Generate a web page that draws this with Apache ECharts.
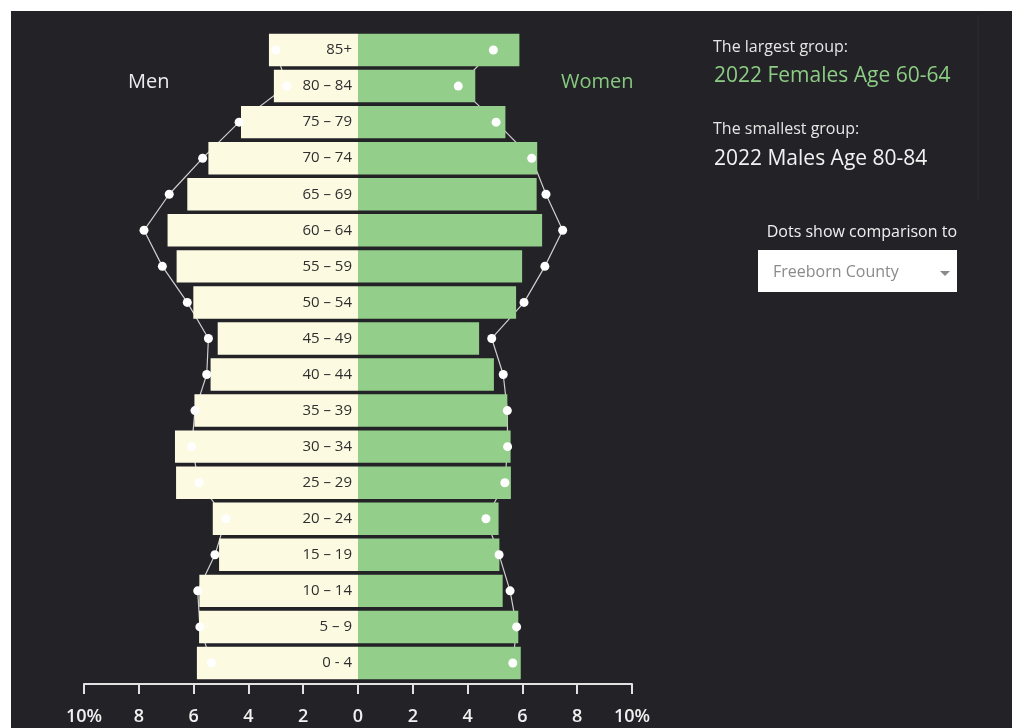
<!DOCTYPE html>
<html>
<head>
<meta charset="utf-8">
<script src="https://cdn.jsdelivr.net/npm/echarts@6/dist/echarts.min.js"></script>
<style>
html,body{margin:0;padding:0;background:#ffffff;width:1015px;height:728px;overflow:hidden;}
#chart{position:absolute;left:11px;top:11px;width:1001px;height:717px;}
</style>
</head>
<body>
<div id="chart"></div>
<script>
// Age groups, bottom to top
var categories = ['0 - 4','5 – 9','10 – 14','15 – 19','20 – 24','25 – 29','30 – 34','35 – 39','40 – 44','45 – 49','50 – 54','55 – 59','60 – 64','65 – 69','70 – 74','75 – 79','80 – 84','85+'];
// Percent of population (2022)
var menValues   = [5.88,5.80,5.79,5.07,5.30,6.64,6.68,5.97,5.38,5.12,6.01,6.62,6.95,6.23,5.46,4.27,3.07,3.25];
var womenValues = [5.94,5.85,5.28,5.16,5.13,5.58,5.57,5.45,4.96,4.42,5.77,5.99,6.72,6.52,6.54,5.38,4.28,5.89];
// Comparison dots (Freeborn County)
var menCompare   = [5.35,5.77,5.85,5.22,4.82,5.80,6.07,5.95,5.52,5.46,6.23,7.14,7.81,6.89,5.67,4.34,2.60,3.00];
var womenCompare = [5.65,5.79,5.55,5.15,4.67,5.36,5.46,5.45,5.30,4.88,6.06,6.82,7.47,6.86,6.34,5.04,3.66,4.94];

var FONT = 'Open Sans';
var chart = echarts.init(document.getElementById('chart'), null, {renderer:'canvas'});

function pairs(arr, sign){ return arr.map(function(v,i){ return [sign*v, categories[i]]; }); }

var option = {
  backgroundColor: '#232227',
  animation: false,
  grid: {left: 73, top: 21, width: 548, height: 649, containLabel: false},
  xAxis: {
    type: 'value', min: -10, max: 10, interval: 2,
    offset: 3,
    axisLine: {show: true, onZero: false, lineStyle: {color: '#e2e2e2', width: 2}},
    axisTick: {show: true, length: 10, lineStyle: {color: '#e2e2e2', width: 2}},
    splitLine: {show: false},
    axisLabel: {
      margin: 24, color: '#f0f0f0', fontSize: 18, fontWeight: 600, fontFamily: FONT,
      formatter: function(v){ var a = Math.abs(v); return a === 10 ? a + '%' : String(a); }
    }
  },
  yAxis: {
    type: 'category', data: categories, z: 10,
    position: 'left', offset: -274,
    axisLine: {show: false, onZero: false},
    axisTick: {show: false},
    splitLine: {show: false},
    axisLabel: {margin: 6, color: '#2f2f2f', fontSize: 15, fontFamily: FONT}
  },
  series: [
    {
      name: 'Men', type: 'bar', barGap: '-100%', barCategoryGap: '10%', z: 2,
      data: menValues.map(function(v){ return -v; }),
      itemStyle: {color: '#fdfae2'}
    },
    {
      name: 'Women', type: 'bar', barGap: '-100%', barCategoryGap: '10%', z: 2,
      data: womenValues,
      itemStyle: {color: '#93cf8a'}
    },
    {
      type: 'line', z: 1, symbol: 'none', data: pairs(menCompare, -1),
      lineStyle: {color: '#cfcfcf', width: 1.2}
    },
    {
      type: 'line', z: 1, symbol: 'none', data: pairs(womenCompare, 1),
      lineStyle: {color: '#cfcfcf', width: 1.2}
    },
    {
      type: 'scatter', z: 5, symbolSize: 9, data: pairs(menCompare, -1),
      itemStyle: {color: '#ffffff', opacity: 1}
    },
    {
      type: 'scatter', z: 5, symbolSize: 9, data: pairs(womenCompare, 1),
      itemStyle: {color: '#ffffff', opacity: 1}
    }
  ],
  graphic: [
    {type:'line', shape:{x1:967, y1:4, x2:967, y2:190}, style:{stroke:'#2d2c32', lineWidth:1}, silent:true},
    {type:'text', left: 117, top: 61, style:{text:'Men', fill:'#ececec', font: '20px "Open Sans"'}},
    {type:'text', left: 550, top: 61, style:{text:'Women', fill:'#86c97f', font: '20px "Open Sans"'}},
    {type:'text', left: 702, top: 28, style:{text:'The largest group:', fill:'#e6e6e6', font: '16px "Open Sans"'}},
    {type:'text', left: 703, top: 55, style:{text:'2022 Females Age 60-64', fill:'#8ccc84', font: '21px "Open Sans"'}},
    {type:'text', left: 702, top: 110, style:{text:'The smallest group:', fill:'#e6e6e6', font: '16px "Open Sans"'}},
    {type:'text', left: 703, top: 138, style:{text:'2022 Males Age 80-84', fill:'#f2f2f2', font: '21px "Open Sans"'}},
    {type:'text', right: 55, top: 213, style:{text:'Dots show comparison to', fill:'#f0f0f0', font: '16px "Open Sans"'}},
    {type:'rect', shape:{x:747, y:239, width:199, height:42}, style:{fill:'#ffffff'}},
    {type:'text', left: 762, top: 253, style:{text:'Freeborn County', fill:'#8a8a8a', font: '16px "Open Sans"'}},
    {type:'polygon', shape:{points:[[929,260],[939,260],[934,265]]}, style:{fill:'#8a8a8a'}}
  ]
};
chart.setOption(option);
</script>
</body>
</html>
